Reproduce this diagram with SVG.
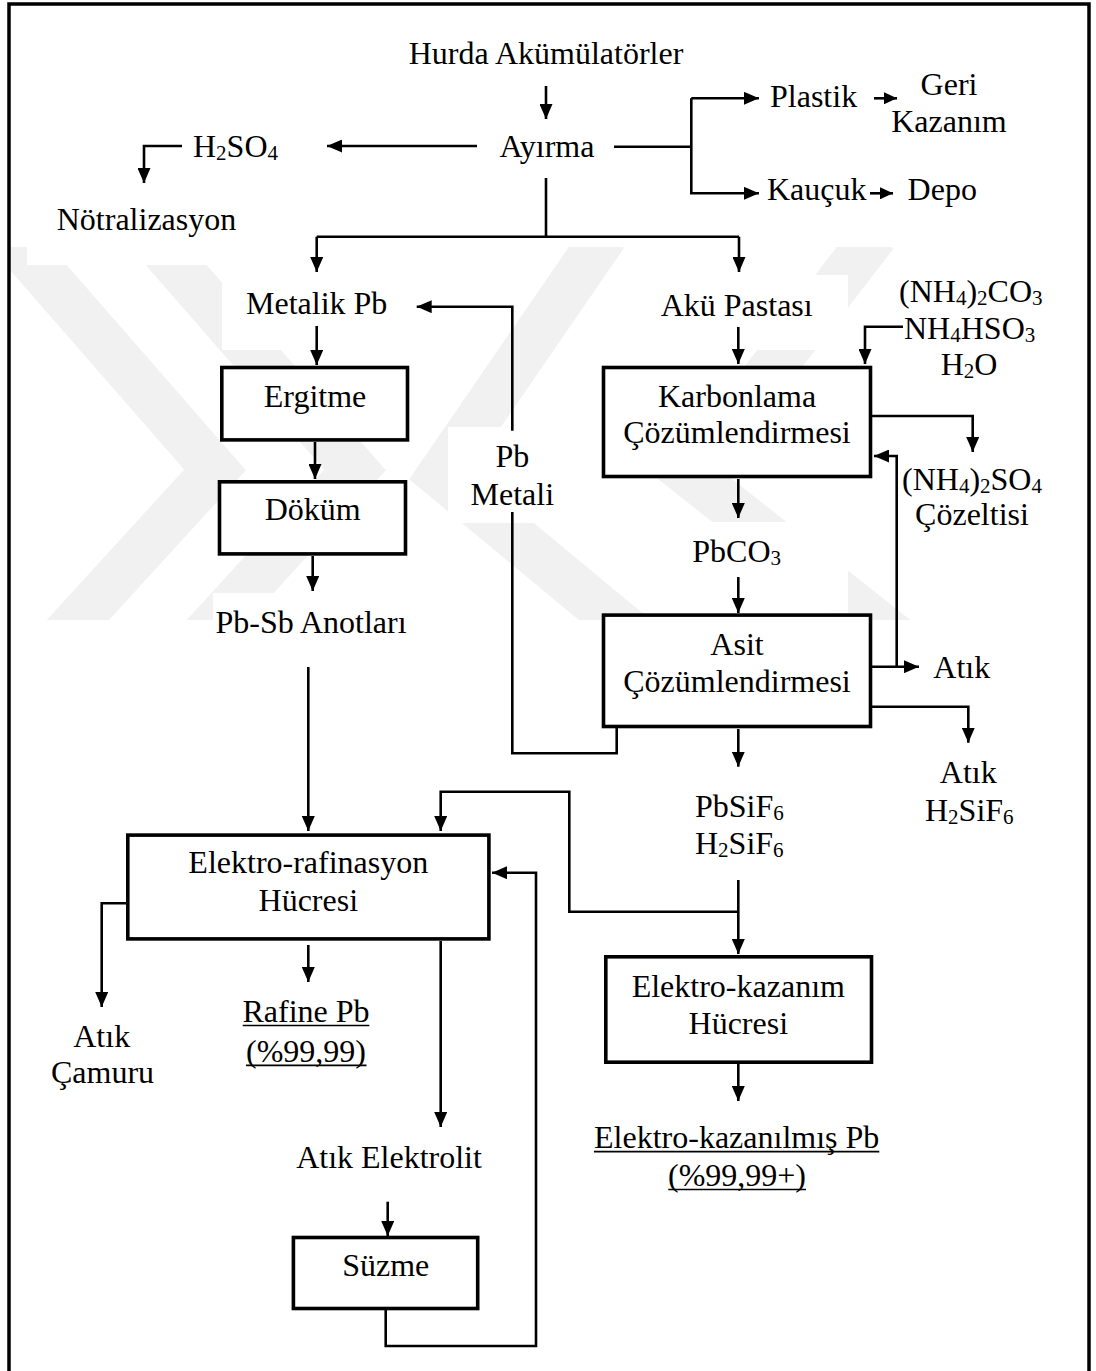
<svg xmlns="http://www.w3.org/2000/svg" width="1096" height="1371" viewBox="0 0 1096 1371">
<style>
text{font-family:"Liberation Serif","Times New Roman",serif;font-size:32px;fill:#000}
.m{text-anchor:middle}
.s{font-size:21px}
.ul{stroke:#000;stroke-width:1.7}
.box{fill:#fff;stroke:#000;stroke-width:3.6}
.c{fill:none;stroke:#000;stroke-width:2.6}
.a{marker-end:url(#ah)}
.sa{marker-end:url(#sh)}
.wm{fill:none;stroke:#f1f1f1;stroke-width:46}
</style>
<defs>
<marker id="ah" markerUnits="userSpaceOnUse" markerWidth="15" markerHeight="13" refX="15" refY="6.5" orient="auto"><path d="M0,0 L15,6.5 L0,13 z" fill="#000"/></marker>
<marker id="sh" markerUnits="userSpaceOnUse" markerWidth="13" markerHeight="12" refX="13" refY="6" orient="auto"><path d="M0,0 L13,6 L0,12 z" fill="#000"/></marker>
<clipPath id="wmclip"><rect x="11" y="247" width="1076" height="373"/></clipPath>
</defs>
<rect width="1096" height="1371" fill="#fff"/>
<g id="watermark" clip-path="url(#wmclip)">
<polyline class="wm" points="10,235 215,470 55,645"/>
<polyline class="wm" points="150,235 355,470 195,645"/>
<polyline class="wm" points="605,235 440,475 645,645"/>
<polyline class="wm" points="875,235 690,475 905,645"/>
</g>
<g id="wm-masks" fill="#fff">
<rect x="27" y="240" width="410" height="25"/>
<rect x="222" y="283" width="190" height="67"/>
<rect x="448" y="427" width="125" height="96"/>
<rect x="623" y="275" width="225" height="75"/>
<rect x="650" y="522" width="198" height="91"/>
<rect x="213" y="593" width="197" height="97"/>
<rect x="880" y="455" width="180" height="90"/>
</g>
<rect id="frame" x="9" y="4" width="1080" height="1400" fill="none" stroke="#000" stroke-width="3.5"/>
<g id="connectors">
<path class="c a" d="M546,86 V119"/>
<path class="c a" d="M477,146 H327"/>
<path class="c a" d="M182,146 H144 V183"/>
<path class="c" d="M546,178 V236.7"/>
<path class="c" d="M316.7,236.7 H739"/>
<path class="c a" d="M316.7,236.7 V272"/>
<path class="c a" d="M739,236.7 V272"/>
<path class="c" d="M614,146.7 H691.3"/>
<path class="c a" d="M691.3,98.3 H759"/>
<path class="c a" d="M691.3,98.3 V193.3 H759"/>
<path class="c sa" d="M874,98.3 H897"/>
<path class="c sa" d="M870,193.3 H893"/>
<path class="c a" d="M316.7,326 V365"/>
<path class="c a" d="M315,442 V479"/>
<path class="c a" d="M312.7,556 V591"/>
<path class="c a" d="M308.3,667 V831"/>
<path class="c" d="M616.7,728 V753.3 H512.3 V512"/>
<path class="c a" d="M512.3,430.7 V306.7 H416.7"/>
<path class="c a" d="M738.3,327 V364"/>
<path class="c a" d="M903,326.7 H865 V364"/>
<path class="c a" d="M872,416 H972.7 V452"/>
<path class="c a" d="M872,666.7 H919"/>
<path class="c a" d="M896.7,666.7 V456 H874"/>
<path class="c a" d="M738.3,479 V518"/>
<path class="c a" d="M738.3,577 V613"/>
<path class="c a" d="M872,706.7 H968.3 V742.7"/>
<path class="c a" d="M738.3,729 V766.7"/>
<path class="c a" d="M738.3,880 V954"/>
<path class="c a" d="M738.3,911.7 H569.3 V791.7 H440.7 V831"/>
<path class="c a" d="M738.3,1064 V1101"/>
<path class="c a" d="M126,903.3 H101.7 V1007"/>
<path class="c a" d="M308.3,945 V982"/>
<path class="c a" d="M440.7,941 V1127"/>
<path class="c a" d="M387.7,1201.7 V1236"/>
<path class="c a" d="M385.7,1310 V1346 H536 V872.7 H492"/>
</g>
<g id="n-hurda"><text class="m" x="546" y="64">Hurda Akümülatörler</text></g>
<g id="n-ayirma"><text class="m" x="547" y="157">Ayırma</text></g>
<g id="n-h2so4"><text x="193" y="157">H<tspan class="s" dy="3">2</tspan><tspan dy="-3">SO</tspan><tspan class="s" dy="3">4</tspan></text></g>
<g id="n-notr"><text class="m" x="146.5" y="230">Nötralizasyon</text></g>
<g id="n-plastik"><text x="770" y="107.3">Plastik</text></g>
<g id="n-geri"><text class="m" x="949" y="95">Geri</text><text class="m" x="949" y="132">Kazanım</text></g>
<g id="n-kaucuk"><text x="767" y="200">Kauçuk</text></g>
<g id="n-depo"><text x="907.6" y="200">Depo</text></g>
<g id="n-metalik"><text class="m" x="316.7" y="314">Metalik Pb</text></g>
<g id="n-aku"><text class="m" x="736.7" y="316">Akü Pastası</text></g>
<g id="n-reagents">
<text x="899" y="302">(NH<tspan class="s" dy="3">4</tspan><tspan dy="-3">)</tspan><tspan class="s" dy="3">2</tspan><tspan dy="-3">CO</tspan><tspan class="s" dy="3">3</tspan></text>
<text x="904" y="339">NH<tspan class="s" dy="3">4</tspan><tspan dy="-3">HSO</tspan><tspan class="s" dy="3">3</tspan></text>
<text class="m" x="969" y="375">H<tspan class="s" dy="3">2</tspan><tspan dy="-3">O</tspan></text>
</g>
<g id="n-ergitme"><rect class="box" x="221.8" y="367.5" width="185.7" height="72.4"/><text class="m" x="315" y="406.7">Ergitme</text></g>
<g id="n-dokum"><rect class="box" x="219.5" y="481.8" width="186" height="72.1"/><text class="m" x="312.7" y="520">Döküm</text></g>
<g id="n-karbon"><rect class="box" x="603.5" y="367.5" width="267" height="109"/><text class="m" x="737" y="406.7">Karbonlama</text><text class="m" x="737" y="442.7">Çözümlendirmesi</text></g>
<g id="n-pbmetali"><text class="m" x="512.3" y="466.7">Pb</text><text class="m" x="512.3" y="505">Metali</text></g>
<g id="n-nh4so4"><text class="m" x="972" y="490">(NH<tspan class="s" dy="3">4</tspan><tspan dy="-3">)</tspan><tspan class="s" dy="3">2</tspan><tspan dy="-3">SO</tspan><tspan class="s" dy="3">4</tspan></text><text class="m" x="972" y="525">Çözeltisi</text></g>
<g id="n-pbco3"><text x="692.3" y="561.7">PbCO<tspan class="s" dy="3">3</tspan></text></g>
<g id="n-pbsb"><text class="m" x="311" y="633.3">Pb-Sb Anotları</text></g>
<g id="n-asit"><rect class="box" x="603.5" y="615.1" width="267" height="111.4"/><text class="m" x="737" y="655">Asit</text><text class="m" x="737" y="691.7">Çözümlendirmesi</text></g>
<g id="n-atik1"><text x="933.3" y="678.3">Atık</text></g>
<g id="n-atik2"><text class="m" x="968.3" y="782.7">Atık</text><text x="925" y="820.7">H<tspan class="s" dy="3">2</tspan><tspan dy="-3">SiF</tspan><tspan class="s" dy="3">6</tspan></text></g>
<g id="n-pbsif6"><text x="695" y="816.7">PbSiF<tspan class="s" dy="3">6</tspan></text><text x="695" y="854">H<tspan class="s" dy="3">2</tspan><tspan dy="-3">SiF</tspan><tspan class="s" dy="3">6</tspan></text></g>
<g id="n-elraf"><rect class="box" x="127.8" y="835.1" width="361.1" height="103.8"/><text class="m" x="308.3" y="873.3">Elektro-rafinasyon</text><text class="m" x="308.3" y="910.7">Hücresi</text></g>
<g id="n-elkaz"><rect class="box" x="605.8" y="956.8" width="265.7" height="105.4"/><text class="m" x="738.3" y="996.7">Elektro-kazanım</text><text class="m" x="738.3" y="1034">Hücresi</text></g>
<g id="n-camur"><text class="m" x="101.7" y="1046.7">Atık</text><text class="m" x="102.5" y="1083.3">Çamuru</text></g>
<g id="n-rafine"><text class="m" x="306" y="1021.7">Rafine Pb</text><line class="ul" x1="242.7" y1="1025.5" x2="369.3" y2="1025.5"/><text class="m" x="306" y="1061.7">(%99,99)</text><line class="ul" x1="246" y1="1065.3" x2="366.5" y2="1065.3"/></g>
<g id="n-atikel"><text class="m" x="389" y="1168.3">Atık Elektrolit</text></g>
<g id="n-suzme"><rect class="box" x="293.4" y="1237.5" width="184.3" height="71"/><text class="m" x="385.7" y="1276">Süzme</text></g>
<g id="n-elkazpb"><text class="m" x="736.7" y="1147.7">Elektro-kazanılmış Pb</text><line class="ul" x1="594" y1="1151.7" x2="879.3" y2="1151.7"/><text class="m" x="737" y="1186">(%99,99+)</text><line class="ul" x1="668.3" y1="1189.5" x2="806" y2="1189.5"/></g>
</svg>
